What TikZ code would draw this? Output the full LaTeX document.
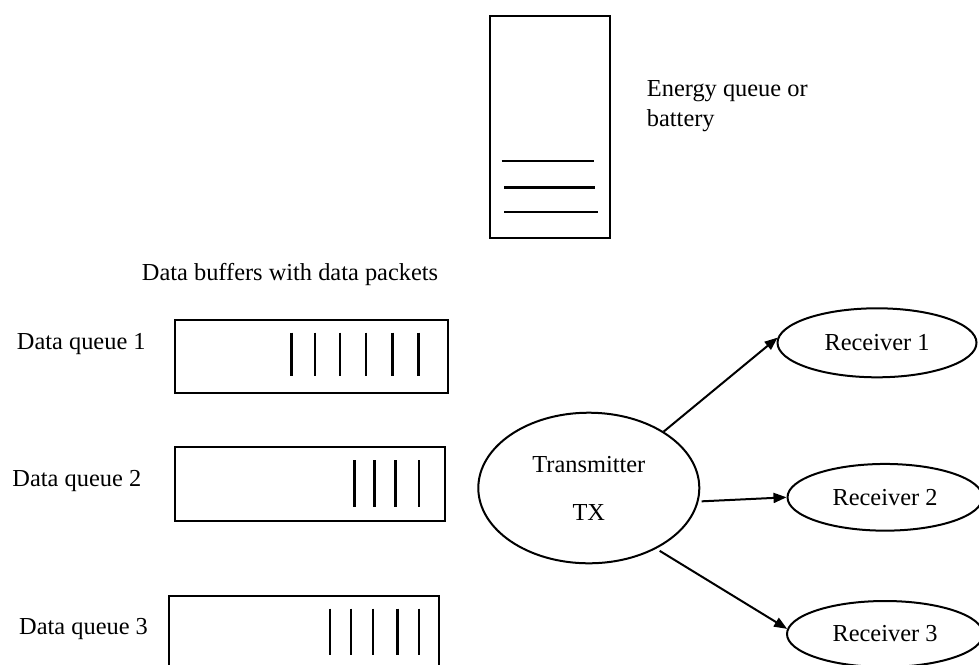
\documentclass[tikz,border=0pt]{standalone}
\usepackage{fontspec}
\setmainfont{Liberation Serif}
\usetikzlibrary{arrows.meta,shapes.geometric}
\begin{document}
\begin{tikzpicture}[x=1pt,y=-1pt,
  every node/.style={font=\fontsize{24.4}{30}\selectfont, inner sep=0pt},
  box/.style={draw, line width=2pt, anchor=north west},
  packet/.style={line width=2.6pt},
  lbl/.style={anchor=base west},
  oval/.style={draw, ellipse, line width=2pt, inner sep=0pt},
  link/.style={line width=2pt, -{Triangle[length=13pt,width=10pt]}}]
\useasboundingbox (0,0) rectangle (979,664);
\clip (0,0) rectangle (979,664);

% energy queue (battery) with its stored energy levels
\node[box, minimum width=120, minimum height=222] (battery) at (489,15) {};
\draw[packet] (501.7,161) -- (594,161);
\draw[packet] (504.3,187.7) -- (595.3,187.7);
\draw[packet] (504,212) -- (597.6,212);
\node[lbl] (energy1) at (646.7,96.7) {Energy queue or};
\node[lbl] (energy2) at (646.7,126.7) {battery};

% data buffers
\node[lbl] (buffers) at (141.7,280) {Data buffers with data packets};

\node[lbl] (dq1) at (16.7,349.3) {Data queue 1};
\node[box, minimum width=273.3, minimum height=73.3] (q1) at (174,319) {};
\foreach \px in {291.7,315,340,366,392.7,418.7}
  \draw[packet] (\px,332.7) -- (\px,376);

\node[lbl] (dq2) at (12.3,486) {Data queue 2};
\node[box, minimum width=270, minimum height=74] (q2) at (174,446) {};
\foreach \px in {354.3,374.3,395.7,419}
  \draw[packet] (\px,460) -- (\px,506.7);

\node[lbl] (dq3) at (19,634) {Data queue 3};
\node[box, minimum width=269.4, minimum height=74] (q3) at (168.3,595) {};
\foreach \px in {330,351,373,397.7,419}
  \draw[packet] (\px,608.5) -- (\px,655);

% transmitter and receivers
\node[oval, minimum width=221, minimum height=150.6, align=center] (tx) at (588.8,488) {Transmitter\\[18pt]TX};
\node[oval, minimum width=199, minimum height=69] (r1) at (877,342.8) {Receiver 1};
\node[oval, minimum width=195, minimum height=66.7] (r2) at (885,497.3) {Receiver 2};
\node[oval, minimum width=196, minimum height=66] (r3) at (885,634) {Receiver 3};

\draw[link] (tx.37) -- (r1.177);
\draw[link, shorten <=3pt] (tx.-7) -- (r2.west);
\draw[link, shorten <=4pt] (tx.-42) -- (r3.177);
\end{tikzpicture}
\end{document}
